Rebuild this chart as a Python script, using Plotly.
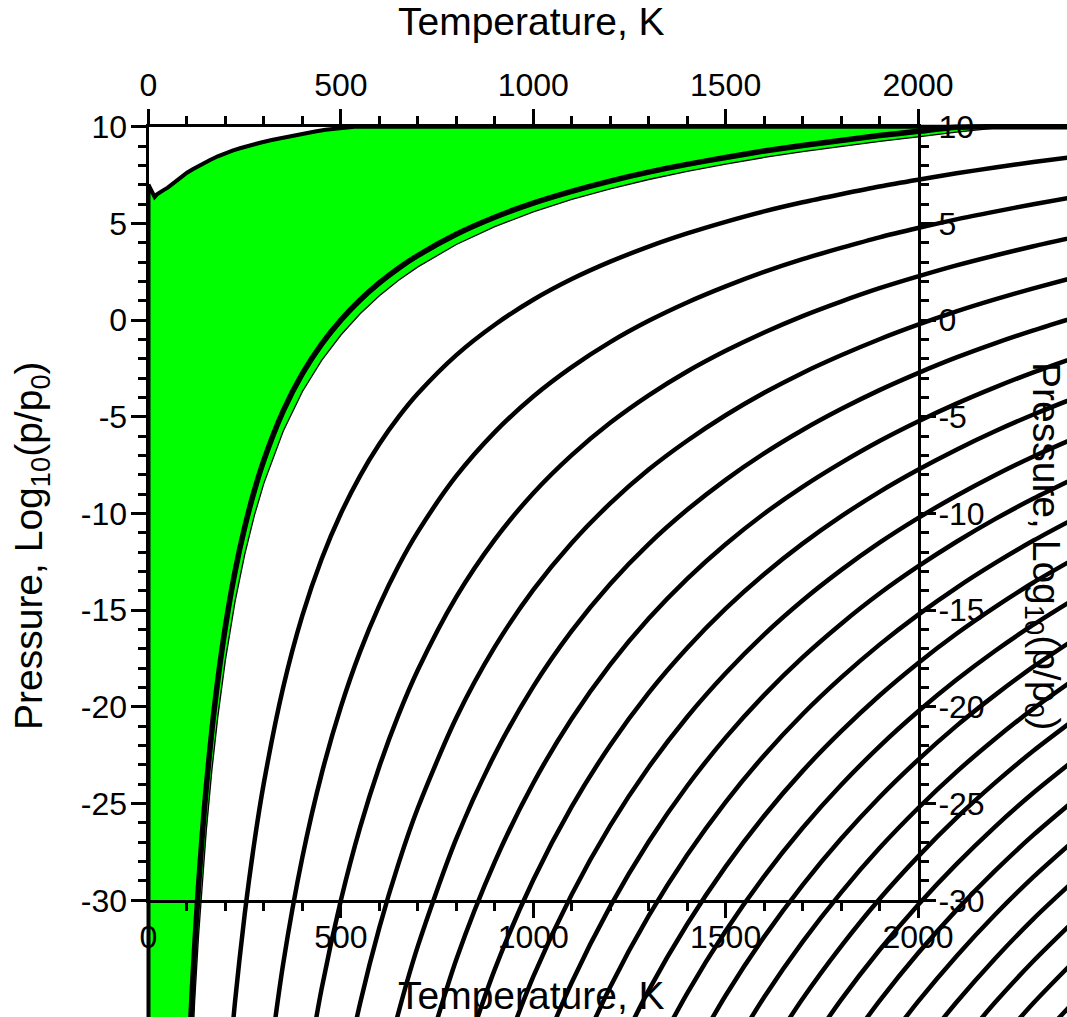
import plotly.graph_objects as go

W, H = 1067, 1017

# ---------------- data ----------------
# temperature grid (K) on which the pressure curves were read
T_GRID = [100, 110, 120, 130, 140, 150, 165, 180, 200, 225, 250, 275, 300, 350, 400,
          450, 500, 550, 600, 650, 700, 800, 900, 1000, 1100, 1200, 1300, 1400, 1500,
          1600, 1700, 1800, 1900, 2000, 2100, 2200, 2300, 2450]

# log10(p/p0) of each black curve on T_GRID (None = outside the picture)
LOGP_C01 = [-40.57, -36.14, -32.42, -29.27, -26.56, -24.19, -21.17, -18.64, -15.84, -13.00,
            -10.72, -8.83, -7.24, -4.71, -2.77, -1.24, 0.00, 1.04, 1.92, 2.68, 3.34, 4.44,
            5.32, 6.05, 6.66, 7.19, 7.65, 8.05, 8.41, 8.74, 9.03, 9.29, 9.54, 9.76, 9.97,
            10.0, 10.0, 10.0]
LOGP_C02 = [None] * 8 + [-40.84, -35.22, -30.72, -27.01, -23.91, -19.00, -15.27, -12.35,
            -10.00, -8.05, -6.41, -5.01, -3.80, -1.81, -0.24, 1.05, 2.12, 3.02, 3.80, 4.48,
            5.08, 5.62, 6.09, 6.51, 6.91, 7.26, 7.59, 7.89, 8.17, 8.56]
LOGP_C03 = [None] * 12 + [-40.58, -33.29, -27.77, -23.46, -20.00, -17.14, -14.75, -12.70,
            -10.95, -8.06, -5.79, -3.95, -2.43, -1.14, -0.04, 0.91, 1.74, 2.49, 3.15, 3.73,
            4.28, 4.76, 5.21, 5.61, 5.99, 6.52]
LOGP_C04 = [None] * 14 + [-40.27, -34.57, -30.00, -26.23, -23.08, -20.40, -18.09, -14.31,
            -11.35, -8.95, -6.98, -5.31, -3.89, -2.66, -1.59, -0.64, 0.21, 0.96, 1.65, 2.26,
            2.83, 3.34, 3.82, 4.48]
LOGP_C05 = [None] * 16 + [-40.00, -35.32, -31.41, -28.09, -25.23, -20.56, -16.90, -13.95,
            -11.52, -9.48, -7.73, -6.24, -4.92, -3.76, -2.73, -1.82, -0.99, -0.24, 0.45,
            1.07, 1.64, 2.44]
LOGP_C06 = [None] * 18 + [-39.75, -35.78, -32.37, -26.81, -22.46, -18.95, -16.07, -13.64,
            -11.58, -9.81, -8.26, -6.89, -5.68, -4.60, -3.62, -2.74, -1.93, -1.20, -0.53,
            0.40]
LOGP_C07 = [None] * 20 + [-39.52, -33.06, -28.01, -23.95, -20.61, -17.81, -15.43, -13.38,
            -11.59, -10.01, -8.62, -7.38, -6.25, -5.24, -4.32, -3.48, -2.70, -1.64]
LOGP_C08 = [None] * 21 + [-39.31, -33.57, -28.95, -25.16, -21.98, -19.27, -16.95, -14.92,
            -13.14, -11.56, -10.15, -8.88, -7.74, -6.70, -5.75, -4.88, -3.69]
LOGP_C09 = [None] * 22 + [-39.12, -33.95, -29.70, -26.14, -23.12, -20.52, -18.26, -16.26,
            -14.50, -12.93, -11.51, -10.24, -9.08, -8.02, -7.05, -5.73]
LOGP_C10 = [None] * 23 + [-38.95, -34.25, -30.31, -26.97, -24.09, -21.59, -19.39, -17.44,
            -15.71, -14.14, -12.74, -11.46, -10.29, -9.23, -7.77]
LOGP_C11 = [None] * 24 + [-38.79, -34.48, -30.81, -27.66, -24.92, -22.51, -20.38, -18.49,
            -16.78, -15.24, -13.84, -12.57, -11.40, -9.81]
LOGP_C12 = [None] * 25 + [-38.64, -34.66, -31.24, -28.26, -25.64, -23.32, -21.27, -19.41,
            -17.74, -16.22, -14.84, -13.57, -11.85]
LOGP_C13 = [None] * 26 + [-38.50, -34.81, -31.59, -28.76, -26.26, -24.04, -22.04, -20.24,
            -18.60, -17.11, -15.75, -13.89]
LOGP_C14 = [None] * 27 + [-38.38, -34.92, -31.89, -29.21, -26.82, -24.67, -22.74, -20.98,
            -19.39, -17.92, -15.93]
LOGP_C15 = [None] * 28 + [-38.26, -35.01, -32.15, -29.60, -27.30, -25.24, -23.36, -21.66,
            -20.09, -17.97]
LOGP_C16 = [None] * 29 + [-38.14, -35.09, -32.38, -29.93, -27.74, -25.74, -23.93, -22.27,
            -20.01]
LOGP_C17 = [None] * 30 + [-38.03, -35.15, -32.57, -30.24, -28.13, -26.20, -24.44, -22.05]
LOGP_C18 = [None] * 31 + [-37.93, -35.20, -32.74, -30.51, -28.48, -26.62, -24.09]
LOGP_C19 = [None] * 32 + [-37.83, -35.24, -32.89, -30.75, -28.79, -26.13]
LOGP_C20 = [None] * 33 + [-37.74, -35.27, -33.02, -30.96, -28.18]
LOGP_C21 = [None] * 34 + [-37.65, -35.29, -33.14, -30.22]
LOGP_C22 = [None] * 35 + [-37.57, -35.31, -32.26]
LOGP_C23 = [None] * 36 + [-37.49, -34.30]

CURVES = [LOGP_C01, LOGP_C02, LOGP_C03, LOGP_C04, LOGP_C05, LOGP_C06, LOGP_C07, LOGP_C08,
          LOGP_C09, LOGP_C10, LOGP_C11, LOGP_C12, LOGP_C13, LOGP_C14, LOGP_C15, LOGP_C16,
          LOGP_C17, LOGP_C18, LOGP_C19, LOGP_C20, LOGP_C21, LOGP_C22, LOGP_C23]

# lower (noisy) boundary of the green region, on T_GRID
GREEN_EDGE = [-43.87, -39.15, -35.19, -31.84, -28.95, -26.43, -23.22, -20.53, -17.56, -14.54,
              -12.12, -10.11, -8.43, -5.75, -3.69, -2.08, -0.77, 0.33, 1.26, 2.06, 2.75, 3.91,
              4.83, 5.60, 6.24, 6.79, 7.27, 7.69, 8.06, 8.41, 8.71, 8.98, 9.24, 9.47, 9.72,
              9.93, 10.0, 10.0]

# upper noisy curve (top of the green region)
TOP_T = [0, 0, 5, 10, 16, 22, 30, 39, 50, 62, 75, 86, 100, 115, 130, 145, 160, 180, 199,
         220, 240, 260, 290, 320, 346, 375, 405, 433, 460, 485, 510, 535, 2450]
TOP_L = [-40.0, 7.0, 6.8, 6.55, 6.37, 6.5, 6.62, 6.72, 6.85, 7.05, 7.25, 7.45, 7.62, 7.8,
         7.98, 8.12, 8.28, 8.47, 8.63, 8.78, 8.9, 9.02, 9.17, 9.31, 9.42, 9.53, 9.65, 9.75,
         9.84, 9.9, 9.96, 10.0, 10.0]

# axes
X_MAJOR = [0, 500, 1000, 1500, 2000]
X_LABELS = ["0", "500", "1000", "1500", "2000"]
X_MINOR = [100, 200, 300, 400, 600, 700, 800, 900, 1100, 1200, 1300, 1400, 1600, 1700,
           1800, 1900]
Y_MAJOR = [-30, -25, -20, -15, -10, -5, 0, 5, 10]
Y_LABELS = ["-30", "-25", "-20", "-15", "-10", "-5", "0", "5", "10"]
Y_MINOR = [-29, -28, -27, -26, -24, -23, -22, -21, -19, -18, -17, -16, -14, -13, -12, -11,
           -9, -8, -7, -6, -4, -3, -2, -1, 1, 2, 3, 4, 6, 7, 8, 9]

X_TITLE = "Temperature, K"
Y_TITLE = "Pressure, Log<sub>10</sub>(p/p<sub>0</sub>)"

# ---------------- figure ----------------
fig = go.Figure()

fill_x = TOP_T[1:] + T_GRID[::-1] + [0]
fill_y = TOP_L[1:] + GREEN_EDGE[::-1] + [GREEN_EDGE[0]]
fig.add_trace(go.Scatter(x=fill_x, y=fill_y, mode="lines", fill="toself",
                         fillcolor="#00ff00", line=dict(width=0),
                         hoverinfo="skip", showlegend=False))
fig.add_trace(go.Scatter(x=T_GRID, y=GREEN_EDGE, mode="lines",
                         line=dict(color="black", width=1.3),
                         hoverinfo="skip", showlegend=False))

for i, c in enumerate(CURVES):
    pts = [(t, v) for t, v in zip(T_GRID, c) if v is not None]
    fig.add_trace(go.Scatter(x=[p[0] for p in pts], y=[p[1] for p in pts], mode="lines",
                             line=dict(color="black", width=5.5 if i == 0 else 4.5,
                                       shape="spline", smoothing=0.8),
                             hoverinfo="skip", showlegend=False))

fig.add_trace(go.Scatter(x=TOP_T, y=TOP_L, mode="lines",
                         line=dict(color="black", width=4),
                         hoverinfo="skip", showlegend=False))

# empty traces so the framing axes exist
for xa, ya in [("x2", "y2"), ("x3", "y2"), ("x2", "y3")]:
    fig.add_trace(go.Scatter(x=[None], y=[None], xaxis=xa, yaxis=ya,
                             hoverinfo="skip", showlegend=False))

FONT = "Liberation Sans, Arial, sans-serif"
tickfont = dict(family=FONT, size=32, color="black")
common = dict(showline=True, linewidth=3, linecolor="black", ticks="outside",
              ticklen=15, tickwidth=2.5, tickcolor="black", showgrid=False,
              zeroline=False, tickfont=tickfont, tickmode="array", fixedrange=True,
              automargin=False)
xminor = dict(tickvals=X_MINOR, ticks="outside", ticklen=8, tickwidth=2.5,
              tickcolor="black", showgrid=False)
yminor = dict(tickvals=Y_MINOR, ticks="outside", ticklen=8, tickwidth=2.5,
              tickcolor="black", showgrid=False)

x_px0, x_px1 = 148.5, 918.0
y_px_top, y_px_bot = 126.7, 900.3
xd = [x_px0 / W, x_px1 / W]
yd = [1 - y_px_bot / H, 1 - y_px_top / H]

# data axes span the whole picture so curves run past the frame
px_per_T = (x_px1 - x_px0) / 2000.0
px_per_L = (y_px_bot - y_px_top) / 40.0
x_full = [-x_px0 / px_per_T, (W - x_px0) / px_per_T]
y_full = [-30 - (H - y_px_bot) / px_per_L, 10 + y_px_top / px_per_L]

fig.update_layout(
    width=W, height=H, autosize=False,
    margin=dict(l=0, r=0, t=0, b=0, pad=0),
    paper_bgcolor="white", plot_bgcolor="rgba(0,0,0,0)",
    showlegend=False,
    xaxis=dict(domain=[0, 1], range=x_full, visible=False, fixedrange=True,
               automargin=False),
    yaxis=dict(domain=[0, 1], range=y_full, visible=False, fixedrange=True,
               automargin=False),
    xaxis2=dict(domain=xd, anchor="y2", range=[0, 2000], tickvals=X_MAJOR,
                ticktext=X_LABELS, minor=xminor, ticklabelstandoff=-9, **common),
    xaxis3=dict(overlaying="x2", side="top", anchor="y2", range=[0, 2000],
                tickvals=X_MAJOR, ticktext=X_LABELS, minor=xminor, **common),
    yaxis2=dict(domain=yd, anchor="x2", range=[-30, 10], tickvals=Y_MAJOR,
                ticktext=Y_LABELS, minor=yminor, ticklabelstandoff=-3, **common),
    yaxis3=dict(overlaying="y2", side="right", anchor="x2", range=[-30, 10],
                tickvals=Y_MAJOR, ticktext=Y_LABELS, minor=yminor, ticklabelstandoff=-4,
                **common),
)

title_font = dict(family=FONT, size=39, color="black")
fig.add_annotation(text=X_TITLE, x=531 / W, y=1 - 21.3 / H, xref="paper", yref="paper",
                   xanchor="center", yanchor="middle", showarrow=False, font=title_font)
fig.add_annotation(text=X_TITLE, x=531.7 / W, y=1 - 995.3 / H, xref="paper", yref="paper",
                   xanchor="center", yanchor="middle", showarrow=False, font=title_font)
fig.add_annotation(text=Y_TITLE, x=31 / W, y=1 - 546 / H, xref="paper", yref="paper",
                   xanchor="center", yanchor="middle", showarrow=False, textangle=-90,
                   font=title_font)
fig.add_annotation(text=Y_TITLE, x=1044 / W, y=1 - 546 / H, xref="paper", yref="paper",
                   xanchor="center", yanchor="middle", showarrow=False, textangle=90,
                   font=title_font)

fig.write_html("out.html",
               config={"displayModeBar": False},
               post_script="document.body.style.margin='0';"
                           "document.body.style.padding='0';"
                           "document.body.style.overflow='hidden';")
